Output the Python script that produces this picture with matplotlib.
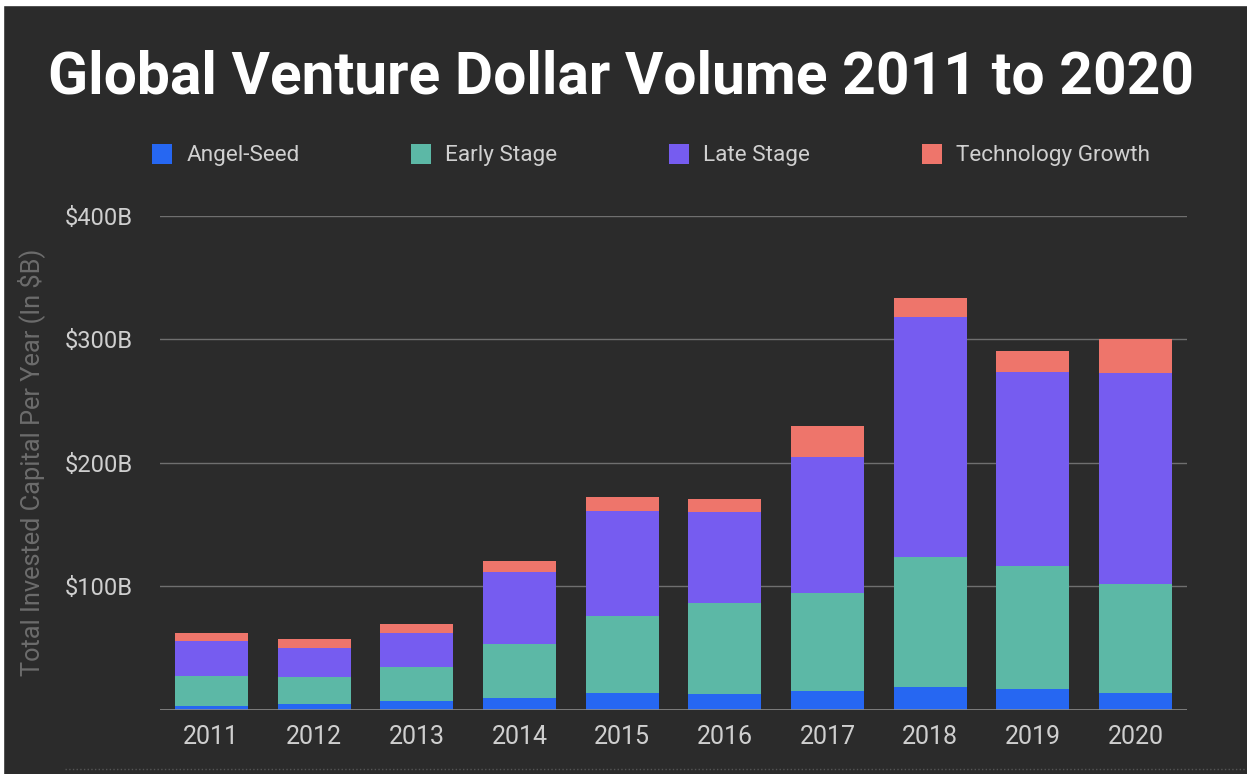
import matplotlib.pyplot as plt
from matplotlib.patches import Rectangle
from matplotlib.lines import Line2D
import numpy as np

years = ['2011', '2012', '2013', '2014', '2015', '2016', '2017', '2018', '2019', '2020']
angel_seed = [3.0, 4.3, 6.5, 9.2, 13.0, 12.4, 14.6, 18.0, 16.4, 13.1]
early_stage = [24.0, 21.9, 28.0, 44.1, 62.7, 74.1, 80.0, 105.9, 100.0, 88.7]
late_stage = [28.6, 23.8, 27.9, 57.8, 85.1, 73.3, 109.8, 193.9, 157.1, 170.9]
tech_growth = [6.8, 7.0, 6.8, 9.0, 11.6, 10.8, 25.4, 15.4, 16.7, 27.5]

series = [
    ('Angel-Seed', angel_seed, '#2667f2'),
    ('Early Stage', early_stage, '#5cb8a6'),
    ('Late Stage', late_stage, '#765cf0'),
    ('Technology Growth', tech_growth, '#ee756b'),
]

bg = '#2b2b2b'
W, H = 1247, 774
plt.rcParams['font.family'] = ['Roboto', 'DejaVu Sans']

fig = plt.figure(figsize=(W / 100, H / 100), dpi=100, facecolor=bg)

# thin white frame at top and left edge of the screenshot
fig.patches.append(Rectangle((0, 1 - 5 / H), 1, 5 / H, transform=fig.transFigure,
                             color='white', zorder=0))
fig.patches.append(Rectangle((0, 0), 3 / W, 1, transform=fig.transFigure,
                             color='white', zorder=0))
fig.lines.append(Line2D([65 / W, 1], [1 - 769 / H] * 2, transform=fig.transFigure,
                        color='#555555', linewidth=1, linestyle=':'))

ax = fig.add_axes([160 / W, 64.5 / H, 1027 / W, 493.5 / H])
ax.set_facecolor(bg)

x = np.arange(len(years))
bottom = np.zeros(len(years))
handles = []
for name, vals, col in series:
    b = ax.bar(x, vals, 0.71, bottom=bottom, color=col, label=name, zorder=3)
    handles.append(b)
    bottom += np.array(vals)

ax.set_xlim(-0.5, len(years) - 0.5)
ax.set_ylim(0, 400)
ax.set_yticks([100, 200, 300, 400])
ax.set_yticklabels(['$100B', '$200B', '$300B', '$400B'])
ax.set_xticks(x)
ax.set_xticklabels(years)
ax.tick_params(axis='both', length=0, colors='#cfcfcf')
ax.tick_params(axis='y', pad=19.5, labelsize=17)
ax.tick_params(axis='x', pad=11, labelsize=18)
ax.grid(axis='y', color='#6f6f6f', linewidth=1, zorder=0)
ax.axhline(0, color='#8a8a8a', linewidth=1.2, zorder=4)
for s in ax.spines.values():
    s.set_visible(False)

ax.set_ylabel('Total Invested Capital Per Year (In $B)', color='#6c6c6c', fontsize=18.3)
ax.yaxis.set_label_coords(-0.112, 0.5)

fig.text(621 / W, 1 - 77 / H, 'Global Venture Dollar Volume 2011 to 2020', color='white',
         fontsize=42.3, fontweight='bold', ha='center', va='center')

fig.legend(handles=handles, loc='center', bbox_to_anchor=(651 / W, 1 - 155 / H),
           ncol=4, frameon=False, fontsize=16.2, labelcolor='#d0d0d0',
           handlelength=0.9, handleheight=1.0, handletextpad=0.63, columnspacing=4.95)

fig.savefig('out.png', dpi=100, facecolor=bg)
